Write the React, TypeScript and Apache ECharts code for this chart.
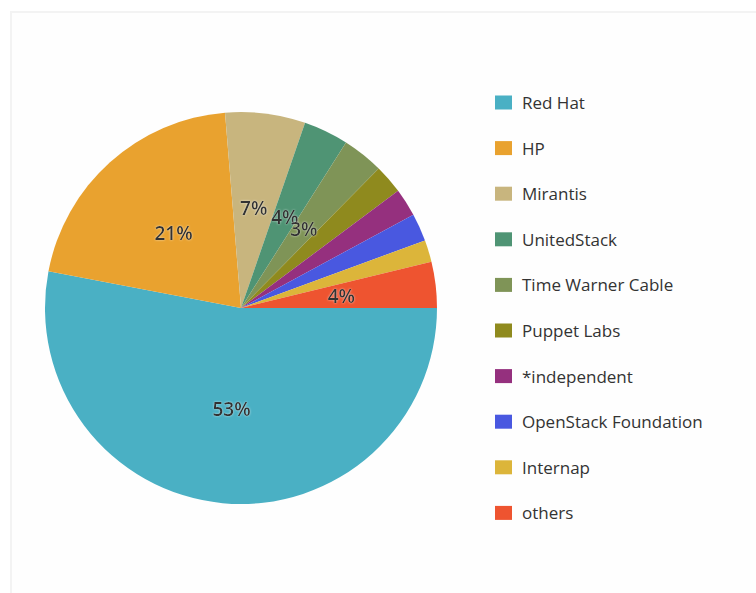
import React, { useEffect, useRef } from "react";
import * as echarts from "echarts";

const categories = [
  "Red Hat",
  "HP",
  "Mirantis",
  "UnitedStack",
  "Time Warner Cable",
  "Puppet Labs",
  "*independent",
  "OpenStack Foundation",
  "Internap",
  "others",
];
const values = [53.0, 20.7, 6.6, 3.7, 3.4, 2.4, 2.3, 2.3, 1.8, 3.8];
const colors = [
  "#4ab0c4",
  "#e9a22f",
  "#c8b57e",
  "#4f9474",
  "#7f9457",
  "#8f8a1e",
  "#95307e",
  "#4958e0",
  "#dcb53a",
  "#ee5430",
];

export default function App() {
  const ref = useRef<HTMLDivElement>(null);
  useEffect(() => {
    if (!ref.current) return;
    const chart = echarts.init(ref.current, null, { renderer: "svg" });
    chart.setOption({
      animation: false,
      color: colors,
      legend: {
        orient: "vertical",
        left: 490,
        top: 89,
        itemWidth: 17,
        itemHeight: 14,
        itemGap: 28.6,
        icon: "rect",
        data: categories,
        textStyle: {
          fontFamily: "Open Sans",
          fontSize: 17,
          color: "#333",
          padding: [0, 0, 0, 5],
        },
      },
      series: [
        {
          type: "pie",
          center: [241, 308],
          radius: 196,
          startAngle: 0,
          clockwise: true,
          avoidLabelOverlap: false,
          labelLayout: { hideOverlap: false },
          label: {
            show: true,
            position: "inside",
            fontFamily: "Open Sans",
            fontSize: 19,
            fontWeight: 600,
            color: "#333",
            textShadowColor: "rgba(255,255,255,0.6)",
            textShadowBlur: 2,
            formatter: (p: any) =>
              p.percent >= 3 ? Math.round(p.percent) + "%" : "",
          },
          labelLine: { show: false },
          emphasis: { disabled: true },
          data: categories.map((name, i) => ({ name, value: values[i] })),
        },
      ],
    });
    return () => chart.dispose();
  }, []);
  return (
    <div
      style={{
        position: "fixed",
        left: 0,
        top: 0,
        width: 756,
        height: 593,
        background: "#fff",
        overflow: "hidden",
      }}
    >
      <div
        style={{
          position: "absolute",
          left: 10,
          top: 11,
          width: 780,
          height: 620,
          border: "2px solid #f3f3f3",
          background: "#fefefe",
        }}
      />
      <div
        ref={ref}
        style={{ position: "absolute", left: 0, top: 0, width: 756, height: 593 }}
      />
    </div>
  );
}
